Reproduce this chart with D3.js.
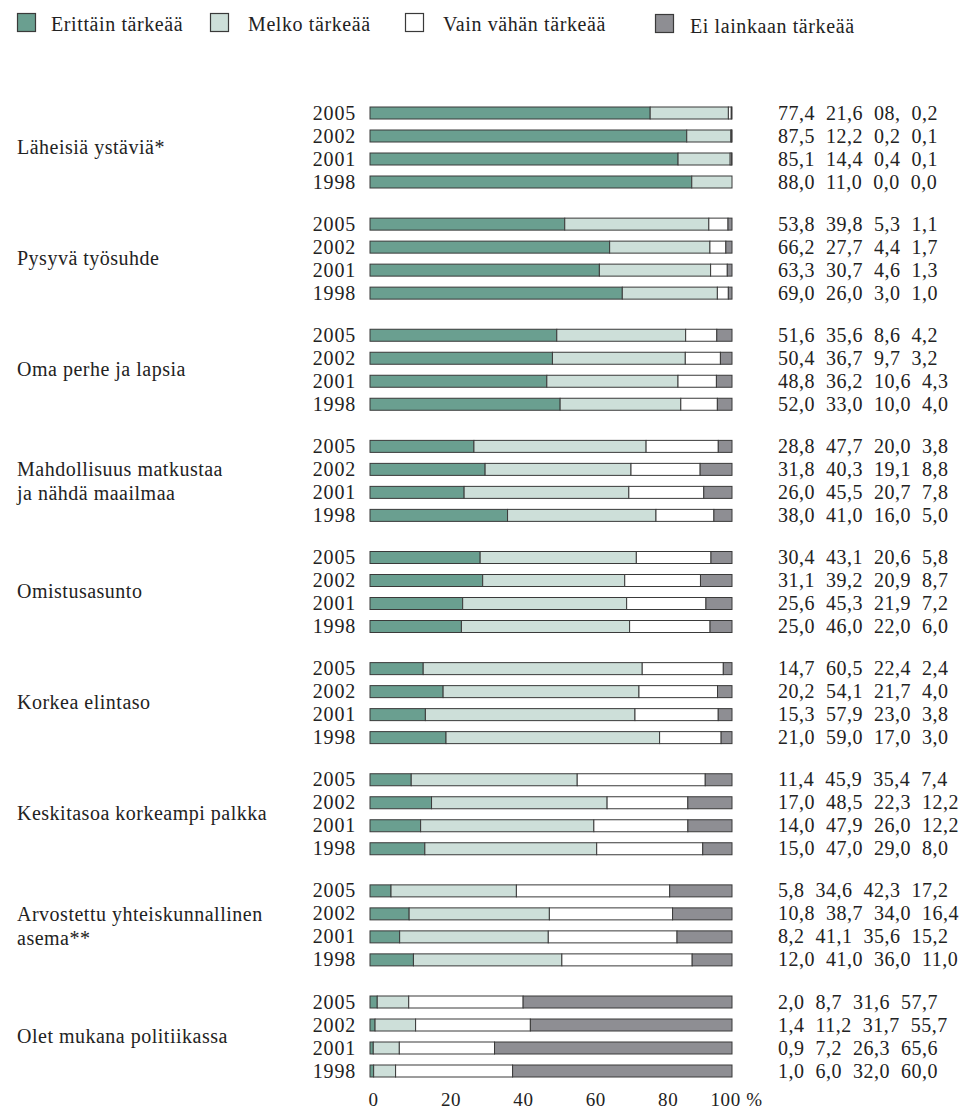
<!DOCTYPE html>
<html>
<head>
<meta charset="utf-8">
<script src="https://cdn.jsdelivr.net/npm/d3@7"></script>
<style>
  html, body { margin: 0; padding: 0; background: #fff; }
  svg text { font-family: "Liberation Serif", "DejaVu Serif", serif; fill: #222; }
</style>
</head>
<body>
<svg id="chart" width="965" height="1111" font-family="Liberation Serif"></svg>
<script>
// ---------- DATA ----------
const categories = [
  ["Läheisiä ystäviä*"],
  ["Pysyvä työsuhde"],
  ["Oma perhe ja lapsia"],
  ["Mahdollisuus matkustaa", "ja nähdä maailmaa"],
  ["Omistusasunto"],
  ["Korkea elintaso"],
  ["Keskitasoa korkeampi palkka"],
  ["Arvostettu yhteiskunnallinen", "asema**"],
  ["Olet mukana politiikassa"]
];
const years = ["2005", "2002", "2001", "1998"];
const seriesNames = ["Erittäin tärkeää", "Melko tärkeää", "Vain vähän tärkeää", "Ei lainkaan tärkeää"];

// values per category, in the order of years (2005, 2002, 2001, 1998)
const erittain = [
  77.4, 87.5, 85.1, 88.0,
  53.8, 66.2, 63.3, 69.0,
  51.6, 50.4, 48.8, 52.0,
  28.8, 31.8, 26.0, 38.0,
  30.4, 31.1, 25.6, 25.0,
  14.7, 20.2, 15.3, 21.0,
  11.4, 17.0, 14.0, 15.0,
   5.8, 10.8,  8.2, 12.0,
   2.0,  1.4,  0.9,  1.0
];
const melko = [
  21.6, 12.2, 14.4, 11.0,
  39.8, 27.7, 30.7, 26.0,
  35.6, 36.7, 36.2, 33.0,
  47.7, 40.3, 45.5, 41.0,
  43.1, 39.2, 45.3, 46.0,
  60.5, 54.1, 57.9, 59.0,
  45.9, 48.5, 47.9, 47.0,
  34.6, 38.7, 41.1, 41.0,
   8.7, 11.2,  7.2,  6.0
];
const vain = [
   0.8,  0.2,  0.4,  0.0,
   5.3,  4.4,  4.6,  3.0,
   8.6,  9.7, 10.6, 10.0,
  20.0, 19.1, 20.7, 16.0,
  20.6, 20.9, 21.9, 22.0,
  22.4, 21.7, 23.0, 17.0,
  35.4, 22.3, 26.0, 29.0,
  42.3, 34.0, 35.6, 36.0,
  31.6, 31.7, 26.3, 32.0
];
const eiLainkaan = [
   0.2,  0.1,  0.1,  0.0,
   1.1,  1.7,  1.3,  1.0,
   4.2,  3.2,  4.3,  4.0,
   3.8,  8.8,  7.8,  5.0,
   5.8,  8.7,  7.2,  6.0,
   2.4,  4.0,  3.8,  3.0,
   7.4, 12.2, 12.2,  8.0,
  17.2, 16.4, 15.2, 11.0,
  57.7, 55.7, 65.6, 60.0
];
// the printed source shows this one value as "08,"
const textOverrides = { "0-0-2": "08," };
const xTicks = [0, 20, 40, 60, 80, 100];
const xTickLabels = ["0", "20", "40", "60", "80", "100 %"];

// ---------- STYLE ----------
const FONT = "Liberation Serif";
const colors = ["#6a9f90", "#cddfd9", "#ffffff", "#8e8e93"];
const stroke = "#3a3a3a";

const svg = d3.select("#chart");

const x = d3.scaleLinear().domain([0, 100]).range([370, 732]);
const groupY = d3.scaleLinear().domain([0, categories.length - 1]).range([113, 1002]);
const rowStep = 23;
const barH = 12;

const fmt = v => d3.format(".1f")(v).replace(".", ",");
const series = [erittain, melko, vain, eiLainkaan];

// rows (bars are shown as shares of the row total, i.e. always 100 %)
const rows = [];
categories.forEach((c, ci) => {
  years.forEach((yr, yi) => {
    const idx = ci * years.length + yi;
    const vals = series.map(s => s[idx]);
    const total = d3.sum(vals);
    let acc = 0;
    const segs = vals.map((v, si) => {
      const p = v / total * 100;
      const s = { x0: acc, x1: acc + p, si };
      acc += p; return s;
    });
    rows.push({ ci, yi, yr, vals, segs, y: groupY(ci) + yi * rowStep });
  });
});

// legend
const legendX = [17, 210, 405, 655];
const legendTX = [51, 248, 443, 690];
const legendTY = [31, 31, 31, 33];
const lg = svg.append("g");
seriesNames.forEach((n, i) => {
  lg.append("rect").attr("x", legendX[i] + 0.5).attr("y", i === 3 ? 14.5 : 13.5)
    .attr("width", 18).attr("height", 18)
    .attr("fill", colors[i]).attr("stroke", stroke).attr("stroke-width", 1.2);
  lg.append("text").attr("x", legendTX[i]).attr("y", legendTY[i])
    .attr("font-family", FONT).attr("font-size", 20).attr("letter-spacing", 0.6).text(n);
});

// category labels
categories.forEach((lines, ci) => {
  const center = groupY(ci) + rowStep * 1.5;
  const t = svg.append("text").attr("font-family", FONT).attr("font-size", 20)
    .attr("letter-spacing", 0.5);
  if (lines.length === 1) {
    t.append("tspan").attr("x", 17).attr("y", center + 6).text(lines[0]);
  } else {
    lines.forEach((l, li) => {
      t.append("tspan").attr("x", 17).attr("y", center - 10.5 + 6 + li * 24).text(l);
    });
  }
});

// year labels
svg.append("g").selectAll("text").data(rows).join("text")
  .attr("x", 356).attr("y", d => d.y + 6.5)
  .attr("text-anchor", "end").attr("font-family", FONT).attr("font-size", 20)
  .attr("letter-spacing", 0.8)
  .text(d => d.yr);

// bars
const rg = svg.append("g").selectAll("g").data(rows).join("g");
rg.selectAll("rect").data(d => d.segs.map(s => ({ ...s, y: d.y }))).join("rect")
  .attr("x", s => x(s.x0))
  .attr("y", s => s.y - barH / 2)
  .attr("width", s => Math.max(0, x(s.x1) - x(s.x0)))
  .attr("height", barH)
  .attr("fill", s => colors[s.si])
  .attr("stroke", stroke).attr("stroke-width", 1);

// value text
svg.append("g").selectAll("text").data(rows).join("text")
  .attr("x", 778).attr("y", d => d.y + 6.5)
  .attr("font-family", FONT).attr("font-size", 20)
  .attr("letter-spacing", 0.5)
  .style("white-space", "pre")
  .attr("xml:space", "preserve")
  .text(d => d.vals.map((v, si) => textOverrides[`${d.ci}-${d.yi}-${si}`] || fmt(v)).join("  "));

// x axis (labels only)
const axis = d3.axisBottom(x).tickValues(xTicks).tickSize(0).tickFormat((d, i) => xTickLabels[i]);
const ag = svg.append("g").attr("transform", "translate(0,1089)").call(axis);
ag.select(".domain").remove();
ag.selectAll("text")
  .attr("font-size", 19).attr("fill", "#222")
  .attr("font-family", FONT)
  .attr("letter-spacing", 0.6)
  .attr("text-anchor", "start")
  .attr("x", (d, i) => i === xTicks.length - 1 ? -22 : -2);
</script>
</body>
</html>
